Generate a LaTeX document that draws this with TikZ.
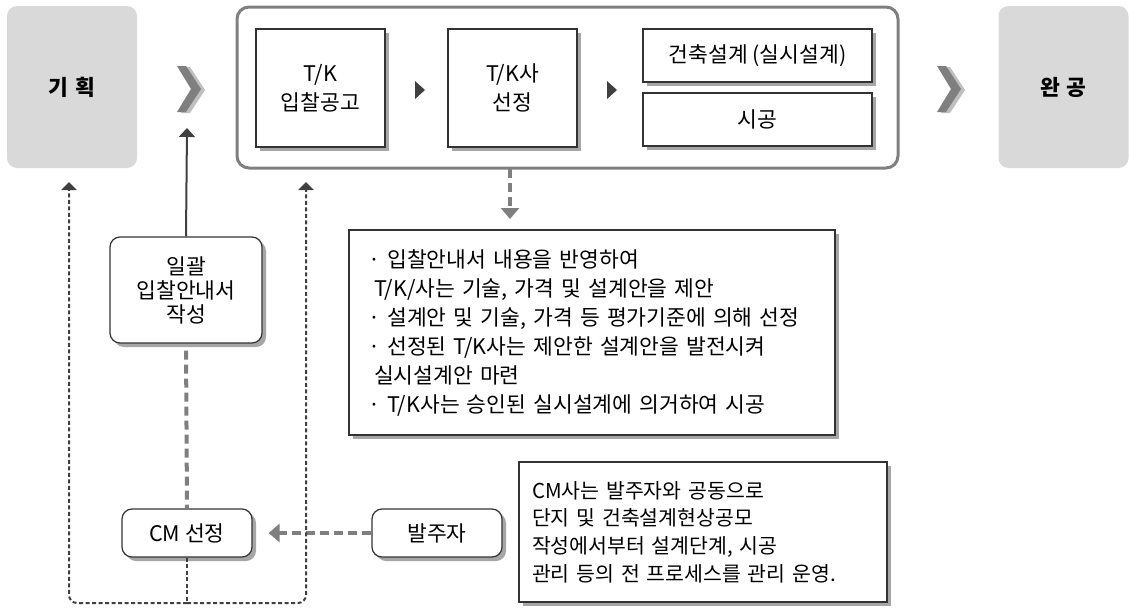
\documentclass[tikz,border=0pt]{standalone}
\usepackage{fontspec}
\setmainfont{Noto Sans CJK KR}
\usetikzlibrary{arrows.meta,shadows,positioning,calc}
\definecolor{panelgray}{HTML}{D9D9D9}
\definecolor{framegray}{HTML}{7F7F7F}
\definecolor{shadegray}{HTML}{A6A6A6}
\definecolor{chevgray}{HTML}{BFBFBF}
\definecolor{inkgray}{HTML}{404040}
\newcommand{\boxfont}{\fontsize{21.5pt}{29pt}\selectfont}
\tikzset{
  stage/.style={
    shape = rectangle,
    rounded corners = 10pt,
    fill = panelgray,
    minimum width = 130pt,
    minimum height = 162pt,
    inner sep = 0pt,
    font = \boxfont\bfseries
  },
  frame/.style={
    shape = rectangle,
    draw = framegray,
    line width = 3pt,
    rounded corners = 12pt,
    minimum width = 661pt,
    minimum height = 161pt
  },
  task/.style={
    shape = rectangle,
    draw = black!80,
    line width = 1.2pt,
    fill = white,
    inner sep = 0pt,
    align = center,
    general shadow = {shadow xshift=4pt, shadow yshift=-4pt, fill=shadegray, draw=none},
    font = \boxfont
  },
  rtask/.style={
    task,
    rounded corners = 10pt
  },
  memo/.style={
    task,
    align = left,
    inner ysep = 0pt
  },
}
\tikzset{
  loopline/.style={
    draw = inkgray,
    line width = 2pt,
    dash pattern = on 4pt off 2.5pt
  },
  flowdash/.style={
    draw = framegray,
    line width = 4pt,
    dash pattern = on 9pt off 5pt
  },
  looptip/.style={-{Triangle[width=15pt,length=8pt]}},
  flowtip/.style={-{Triangle[width=18pt,length=11pt]}},
}
\begin{document}
\begin{tikzpicture}[x=1pt,y=-1pt]
  \useasboundingbox (0,0) rectangle (1129,608);
  % stages
  \node[stage] (plan) at (72,87) {기\hspace{0.3em}획};
  \node[stage] (done) at (1063.5,87) {완\hspace{0.3em}공};
  \node[frame] (tk) at (567.5,87.5) {};
  \foreach \x in {177,937}{
    \fill[chevgray] (\x+4,67) -- (\x+13,67) -- (\x+28,90) -- (\x+13,113) -- (\x+4,113) -- (\x+18,90) -- cycle;
    \fill[framegray] (\x,66) -- (\x+9,66) -- (\x+24,89) -- (\x+9,112) -- (\x,112) -- (\x+14,89) -- cycle;
  }
  \node[task, minimum width=129pt, minimum height=118pt] (bid) at (320.5,88) {T/K\\입찰공고};
  \node[task, minimum width=129pt, minimum height=118pt] (pick) at (512.5,88) {T/K사\\선정};
  \node[task, minimum width=229pt, minimum height=53pt] (design) at (757.5,55.5) {건축설계 (실시설계)};
  \node[task, minimum width=229pt, minimum height=53pt] (build) at (757.5,119.5) {시공};
  \foreach \x in {415,607}
    \fill[inkgray] (\x,81) -- (\x+10,90) -- (\x,99) -- cycle;
  % notes
  \node[memo, text width=448pt, inner xsep=19pt, minimum height=205pt] (notes) at (592,332.5) {%
    · 입찰안내서 내용을 반영하여\\
    \hspace*{6pt}T/K/사는 기술, 가격 및 설계안을 제안\\
    · 설계안 및 기술, 가격 등 평가기준에 의해 선정\\
    · 선정된 T/K사는 제안한 설계안을 발전시켜\\
    \hspace*{6pt}실시설계안 마련\\
    · T/K사는 승인된 실시설계에 의거하여 시공};
  \node[memo, text width=342pt, inner xsep=13pt, minimum height=140pt,
        font=\fontsize{20.5pt}{27.7pt}\selectfont] (cmnote) at (703,532) {%
    CM사는 발주자와 공동으로\\
    단지 및 건축설계현상공모\\
    작성에서부터 설계단계, 시공\\
    관리 등의 전 프로세스를 관리 운영.};
  % left side
  \node[rtask, minimum width=152pt, minimum height=106pt,
        font=\fontsize{21.5pt}{24pt}\selectfont] (batch) at (186,290) {일괄\\입찰안내서\\작성};
  \node[rtask, minimum width=130pt, minimum height=48pt] (cmsel) at (187,533) {CM 선정};
  \node[rtask, minimum width=130pt, minimum height=48pt] (owner) at (437,533) {발주자};
  \coordinate (batchtip) at (187,128);
  \coordinate (loopmid) at (187,603);
  \coordinate (planfoot) at (69,182);
  \coordinate (tkfoot) at (306,182);
  \coordinate (tkout) at (510,169);
  \coordinate (notesin) at (510,219);
  % connectors
  \draw[draw=inkgray, line width=2pt, -{Triangle[width=16pt,length=9pt]}] (batch.north) -- (batchtip);
  \draw[flowdash, shorten <=7pt] (batch.south) -- (cmsel.north);
  \draw[flowdash, flowtip] (owner.west) -- ([xshift=16pt]cmsel.east);
  \draw[flowdash, flowtip] (tkout) -- (notesin);
  \draw[loopline] (cmsel.south) -- (loopmid);
  \draw[loopline, looptip, rounded corners=8pt] (loopmid) -| (planfoot);
  \draw[loopline, looptip, rounded corners=8pt] (loopmid) -| (tkfoot);
\end{tikzpicture}
\end{document}
